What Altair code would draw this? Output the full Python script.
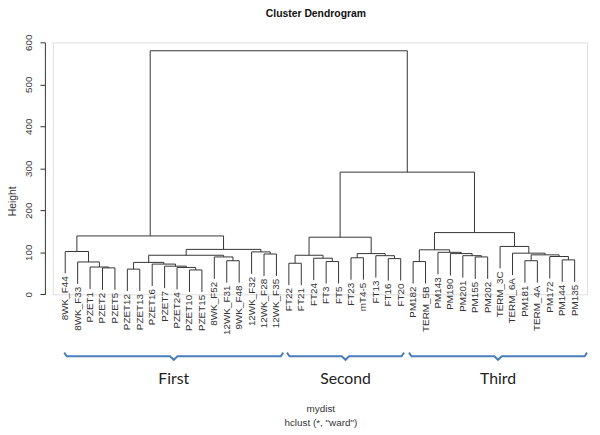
import altair as alt
import pandas as pd

# ---- leaves in dendrogram order ----
leaves = ["8WK_F44", "8WK_F33", "PZET1", "PZET2", "PZET5", "PZET12", "PZET13",
          "PZET16", "PZET7", "PZET24", "PZET10", "PZET15", "8WK_F52", "12WK_F31",
          "9WK_F48", "12WK_F32", "12WK_F28", "12WK_F35",
          "FT22", "FT21", "FT24", "FT3", "FT5", "FT23", "mT4-5", "FT13", "FT16", "FT20",
          "PM182", "TERM_5B", "PM143", "PM190", "PM201", "PM155", "PM202", "TERM_3C",
          "TERM_6A", "PM181", "TERM_4A", "PM172", "PM144", "PM135"]

# ---- merges: name, left child, right child, height ----
merge_name = ["m1", "m2", "m3", "L", "m5", "F", "E", "D", "C", "A1", "in", "A2", "A",
              "Bi", "B", "R", "First",
              "s1", "s2", "s3", "SL", "s4", "s5", "s6", "SR", "Second",
              "t1", "Z", "Y", "X", "t2", "TL", "u1", "u2", "u3", "W", "u4", "TR", "Third",
              "ST", "Root"]
merge_left = ["PZET2", "PZET1", "8WK_F33", "8WK_F44", "PZET12", "PZET10", "PZET24", "PZET7",
              "PZET16", "m5", "12WK_F31", "8WK_F52", "A1", "12WK_F28", "12WK_F32", "A", "L",
              "FT22", "FT3", "FT24", "s1", "FT23", "FT16", "FT13", "s4", "SL",
              "PM182", "PM155", "PM201", "PM190", "PM143", "t1", "PM181", "PM144", "PM172",
              "u1", "TERM_6A", "TERM_3C", "TL", "Second", "First"]
merge_right = ["PZET5", "m1", "m2", "m3", "PZET13", "PZET15", "F", "E", "D", "C", "9WK_F48",
               "in", "A2", "12WK_F35", "Bi", "B", "R",
               "FT21", "FT5", "s2", "s3", "mT4-5", "FT20", "s5", "s6", "SR",
               "TERM_5B", "PM202", "Z", "Y", "X", "t2", "TERM_4A", "PM135", "u2", "u3",
               "W", "u4", "TR", "Third", "ST"]
merge_height = [63, 65, 77, 102, 60, 58, 64, 67, 72, 76, 80, 89, 93, 96, 101, 107, 139,
                74, 78, 86, 93, 87, 85, 92, 97, 136,
                78, 89, 92, 97, 100, 106, 80, 82, 90, 94, 98, 114, 147,
                291, 580]

# ---- bracket annotations below the labels ----
group_names = ["First", "Second", "Third"]
group_start = [0.92, 18.85, 28.67]
group_end = [18.55, 28.27, 43.0]

# ---- layout of the tree ----
hang = 0.1 * (max(merge_height) - min(merge_height))
pos = {name: i + 1 for i, name in enumerate(leaves)}
hgt = {}
segs = []
labs = []
for n, l, r, h in zip(merge_name, merge_left, merge_right, merge_height):
    pos[n] = (pos[l] + pos[r]) / 2
    hgt[n] = h
    segs.append(dict(x=pos[l], x2=pos[r], y=h, y2=h))
    for c in (l, r):
        bottom = hgt.get(c, h - hang)
        segs.append(dict(x=pos[c], x2=pos[c], y=h, y2=bottom))
        if c not in hgt:
            labs.append(dict(x=pos[c], y=h - hang, label=c))
seg_df = pd.DataFrame(segs)
lab_df = pd.DataFrame(labs)

lvl, hook = -147.5, 8.5
brace = []
for g, s, e in zip(group_names, group_start, group_end):
    c = (s + e) / 2
    pts = [(s, lvl + hook), (s + 0.2, lvl), (c - 0.3, lvl), (c, lvl - hook),
           (c + 0.3, lvl), (e - 0.2, lvl), (e, lvl + hook)]
    for k, (px, py) in enumerate(pts):
        brace.append(dict(group=g, k=k, x=px, y=py))
brace_df = pd.DataFrame(brace)
glab_df = pd.DataFrame(dict(group=group_names,
                            x=[(s + e) / 2 for s, e in zip(group_start, group_end)]))

xs = alt.Scale(domain=[0, 43], nice=False, zero=False)
ys = alt.Scale(domain=[0, 600], nice=False, zero=False)
FONT = "Liberation Sans"
INK = "#333333"

yaxis = alt.Axis(values=[0, 100, 200, 300, 400, 500, 600], grid=False, title=None,
                 domainColor=INK, tickColor=INK, tickSize=5, offset=8,
                 labelAngle=270, labelAlign="center", labelBaseline="bottom",
                 labelPadding=7, labelFont=FONT, labelFontSize=10, labelColor=INK)

rules = alt.Chart(seg_df).mark_rule(color=INK, strokeWidth=1).encode(
    x=alt.X("x:Q", scale=xs, axis=None), x2="x2:Q",
    y=alt.Y("y:Q", scale=ys, axis=yaxis), y2="y2:Q")

leaf_text = alt.Chart(lab_df).mark_text(
    angle=270, align="right", baseline="middle", dx=-3,
    font=FONT, fontSize=10, color=INK).encode(
    x=alt.X("x:Q", scale=xs), y=alt.Y("y:Q", scale=ys), text="label:N")

braces = alt.Chart(brace_df).mark_line(color="#4a7ebd", strokeWidth=2).encode(
    x=alt.X("x:Q", scale=xs), y=alt.Y("y:Q", scale=ys), detail="group:N", order="k:Q")

group_text = alt.Chart(glab_df).mark_text(
    font="Lato", fontSize=16, color="#222222", baseline="middle").encode(
    x=alt.X("x:Q", scale=xs), y=alt.value(341), text="group:N")

ann = pd.DataFrame(dict(
    t=["Cluster Dendrogram", "Height", "mydist", 'hclust (*, "ward")'],
))
title = alt.Chart(ann.iloc[[0]]).mark_text(
    font=FONT, fontSize=10.5, fontWeight="bold", color="#111111", baseline="middle").encode(
    x=alt.value(266.6), y=alt.value(-28.5), text="t:N")
ylab = alt.Chart(ann.iloc[[1]]).mark_text(
    font=FONT, fontSize=10.5, angle=270, color=INK, baseline="middle").encode(
    x=alt.value(-40.4), y=alt.value(161), text="t:N")
sub1 = alt.Chart(ann.iloc[[2]]).mark_text(
    font=FONT, fontSize=10, color=INK, baseline="middle").encode(
    x=alt.value(271.6), y=alt.value(372), text="t:N")
sub2 = alt.Chart(ann.iloc[[3]]).mark_text(
    font=FONT, fontSize=10, color=INK, baseline="middle").encode(
    x=alt.value(271.6), y=alt.value(386), text="t:N")

chart = alt.layer(rules, leaf_text, braces, group_text, title, ylab, sub1, sub2).properties(
    width=541.4, height=255.3,
    autosize=alt.AutoSizeParams(type="none"),
    padding={"left": 45.4, "top": 32, "right": 5, "bottom": 138},
).configure_view(stroke=None).configure(background="white")

chart.save("out.html", embed_options={"renderer": "svg", "actions": False})
